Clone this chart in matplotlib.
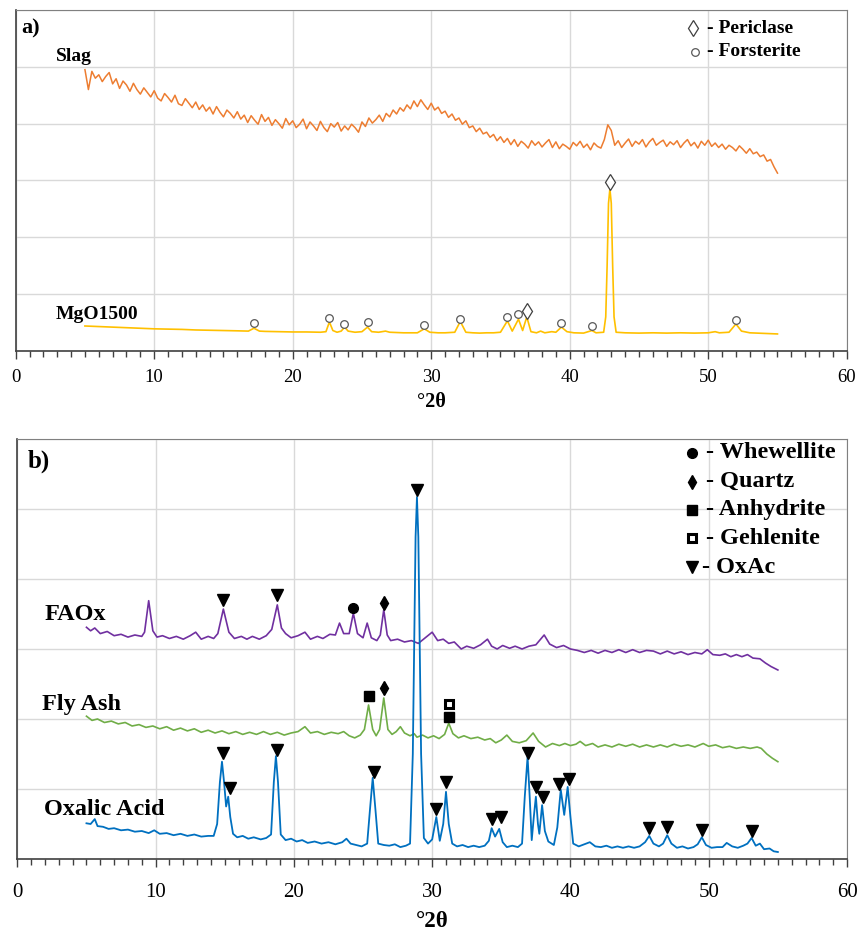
import numpy as np
import matplotlib
matplotlib.use("Agg")
import matplotlib.pyplot as plt
from matplotlib.ticker import MultipleLocator

plt.rcParams['font.family'] = ['Liberation Serif', 'DejaVu Serif']

# ---------------- panel a data ----------------
slag_x = np.linspace(5, 55, 201)
slag_y = [4.95, 4.60, 4.92, 4.80,
          4.86, 4.74, 4.83, 4.90,
          4.70, 4.79, 4.62, 4.75,
          4.68, 4.57, 4.71, 4.60,
          4.52, 4.63, 4.55, 4.47,
          4.58, 4.45, 4.40, 4.53,
          4.46, 4.38, 4.50, 4.35,
          4.32, 4.44, 4.36, 4.28,
          4.38, 4.25, 4.33, 4.22,
          4.29, 4.17, 4.30, 4.20,
          4.12, 4.24, 4.18, 4.10,
          4.21, 4.08, 4.15, 4.02,
          4.14, 4.06, 3.99, 4.16,
          4.04, 4.11, 3.97, 4.07,
          4.00, 3.92, 4.09, 3.98,
          4.05, 3.93, 3.99, 4.08,
          3.91, 4.03, 3.96, 3.88,
          4.04, 3.93, 3.86, 4.00,
          3.94, 4.02, 3.87, 3.96,
          3.89, 3.99, 3.93, 3.85,
          4.03, 3.95, 4.10, 4.01,
          4.07, 4.15, 4.04, 4.18,
          4.12, 4.24, 4.17, 4.28,
          4.22, 4.33, 4.26, 4.40,
          4.30, 4.42, 4.33, 4.25,
          4.36, 4.24, 4.29, 4.18,
          4.22, 4.11, 4.17, 4.06,
          4.10, 3.99, 4.05, 3.93,
          3.96, 3.86, 3.92, 3.82,
          3.85, 3.76, 3.81, 3.70,
          3.77, 3.67, 3.74, 3.63,
          3.72, 3.60, 3.69, 3.64,
          3.57, 3.70, 3.62, 3.68,
          3.59, 3.66, 3.72, 3.58,
          3.68, 3.56, 3.64, 3.60,
          3.55, 3.67, 3.61, 3.69,
          3.58, 3.64, 3.54, 3.66,
          3.60, 3.57, 3.72, 3.98,
          3.88, 3.62, 3.70, 3.58,
          3.66, 3.73, 3.60, 3.69,
          3.64, 3.72, 3.59, 3.68,
          3.74, 3.62, 3.67, 3.71,
          3.60, 3.68, 3.63, 3.70,
          3.58, 3.66, 3.72, 3.61,
          3.67, 3.57, 3.69, 3.62,
          3.71, 3.60, 3.66, 3.58,
          3.64, 3.55, 3.62, 3.58,
          3.52, 3.61, 3.55, 3.48,
          3.56, 3.47, 3.50, 3.42,
          3.45, 3.34, 3.37, 3.24,
          3.13]

mgo_x = [5, 6, 7, 8, 9, 10, 11, 12, 13, 14, 15, 16, 16.8, 17.2, 17.6, 18, 19, 20, 21, 22,
         22.4, 22.65, 22.9, 23.2, 23.5, 23.75, 24.0, 24.5, 25.0, 25.4, 25.7, 26.2, 26.7, 27.0,
         28, 29, 29.5, 29.9, 30.5, 31, 31.7, 32.1, 32.5, 33, 33.5, 34, 34.5, 35.0, 35.5, 35.85,
         36.3, 36.6, 36.9, 37.2, 37.6, 37.9, 38.2, 38.7, 39.0, 39.4, 39.8, 40.3, 41.0, 41.6,
         41.9, 42.45, 42.6, 42.7, 42.8, 42.9, 43.0, 43.1, 43.2, 43.35, 44, 45, 46, 47, 48, 49,
         50, 50.5, 50.8, 51.5, 52.0, 52.4, 53, 54, 55]
mgo_y = [0.44, 0.43, 0.42, 0.41, 0.40, 0.39, 0.385, 0.38, 0.37, 0.365, 0.36, 0.355, 0.35, 0.40,
         0.35, 0.345, 0.34, 0.335, 0.335, 0.33,
         0.34, 0.51, 0.36, 0.33, 0.35, 0.42, 0.35, 0.33, 0.34, 0.42, 0.34, 0.33, 0.35, 0.33,
         0.32, 0.32, 0.39, 0.33, 0.32, 0.32, 0.33, 0.52, 0.33, 0.32, 0.315, 0.32, 0.32, 0.33,
         0.53, 0.35,
         0.56, 0.36, 0.60, 0.34, 0.32, 0.35, 0.32, 0.34, 0.33, 0.42, 0.34, 0.32, 0.315, 0.36,
         0.32, 0.33, 0.60, 1.50, 2.60, 2.85, 2.60, 1.50, 0.60, 0.33, 0.32, 0.315, 0.32, 0.315,
         0.32, 0.315,
         0.32, 0.34, 0.32, 0.33, 0.475, 0.35, 0.32, 0.31, 0.30]

forsterite_x = [17.2, 22.6, 23.7, 25.4, 29.5, 32.1, 35.5, 36.3, 39.4, 41.6, 52.0]
forsterite_y = [0.49, 0.58, 0.475, 0.51, 0.46, 0.56, 0.60, 0.65, 0.49, 0.44, 0.55]
periclase_x = [36.9, 42.9]
periclase_y = [0.70, 2.98]

# ---------------- panel b data ----------------
faox_x = [5.0, 5.3, 5.6, 6.0, 6.5, 7.0, 7.5, 8.0, 8.5, 9.0, 9.2, 9.5, 9.8, 10.1, 10.5, 11.0,
          11.5, 12.0, 12.5, 12.9, 13.3, 13.8, 14.2, 14.5, 14.9, 15.3, 15.7, 16.2, 16.6, 17.0,
          17.5, 18.0, 18.4, 18.8, 19.1, 19.4, 19.8, 20.3, 20.8, 21.2, 21.7, 22.1, 22.6, 23.0,
          23.3, 23.6, 24.0, 24.3, 24.6, 25.0, 25.3, 25.6, 26.0, 26.25, 26.5, 26.75, 27.0, 27.5,
          28.0, 28.5, 29.0, 29.5, 30.0, 30.4, 30.8, 31.2, 31.6, 32.1, 32.5, 33.0, 33.5, 34.0,
          34.3, 34.7, 35.1, 35.6, 36.0, 36.5, 37.0, 37.5, 38.1, 38.5, 39.0, 39.5, 40.0, 40.5,
          41.0, 41.5, 42.0, 42.5, 43.0, 43.5, 44.0, 44.5, 45.0, 45.5, 46.0, 46.5, 47.0, 47.5,
          48.0, 48.5, 49.0, 49.5, 49.9, 50.3, 50.8, 51.2, 51.6, 52.0, 52.4, 52.8, 53.2, 53.7,
          54.1, 54.5, 55.0]
faox_y = [3.31, 3.26, 3.30, 3.22, 3.25, 3.19, 3.21, 3.17, 3.20, 3.18, 3.24, 3.69, 3.26, 3.17,
          3.19, 3.15, 3.18, 3.14, 3.19, 3.24, 3.14, 3.18, 3.15, 3.22, 3.57, 3.24, 3.15, 3.18,
          3.14, 3.18, 3.14, 3.19, 3.28, 3.63, 3.30, 3.22, 3.16, 3.19, 3.24, 3.14, 3.18, 3.15,
          3.21, 3.20, 3.37, 3.22, 3.22, 3.51, 3.22, 3.16, 3.37, 3.16, 3.12, 3.20, 3.56, 3.20,
          3.12, 3.14, 3.10, 3.12, 3.08, 3.16, 3.24, 3.12, 3.14, 3.08, 3.10, 3.00, 3.04, 3.01,
          3.06, 3.14, 3.04, 3.00, 3.05, 3.01, 3.04, 3.00, 3.04, 3.06, 3.20, 3.07, 3.02, 3.05,
          3.00, 2.98, 2.95, 2.98, 2.94, 2.98, 2.95, 2.99, 2.95, 2.99, 2.95, 2.98, 2.97, 2.93,
          2.97, 2.93, 2.96, 2.92, 2.95, 2.93, 2.99, 2.92, 2.91, 2.93, 2.89, 2.92, 2.89, 2.92,
          2.87, 2.86, 2.80, 2.75, 2.70]

flyash_x = [5.0, 5.4, 5.8, 6.3, 6.8, 7.3, 7.8, 8.3, 8.8, 9.3, 9.8, 10.3, 10.8, 11.3, 11.8, 12.3,
            12.8, 13.3, 13.8, 14.3, 14.8, 15.3, 15.8, 16.3, 16.8, 17.3, 17.8, 18.3, 18.8, 19.3,
            19.8, 20.3, 20.8, 21.2, 21.7, 22.2, 22.7, 23.2, 23.6, 24.0, 24.4, 24.8, 25.1, 25.4,
            25.7, 25.95, 26.2, 26.5, 26.8, 27.1, 27.4, 27.7, 28.0, 28.4, 28.7, 28.9, 29.3, 29.7,
            30.1, 30.5, 30.9, 31.2, 31.5, 31.9, 32.3, 32.8, 33.3, 33.8, 34.2, 34.6, 35.0, 35.4,
            35.8, 36.3, 36.8, 37.3, 37.7, 38.2, 38.7, 39.2, 39.6, 40.0, 40.4, 40.7, 41.1, 41.6,
            42.0, 42.5, 43.0, 43.5, 44.0, 44.5, 45.0, 45.5, 46.0, 46.5, 47.0, 47.5, 48.0, 48.5,
            49.0, 49.6, 50.0, 50.5, 51.0, 51.5, 52.0, 52.5, 53.0, 53.5, 53.8, 54.2, 54.6, 55.0]
flyash_y = [2.04, 1.98, 2.00, 1.95, 1.97, 1.93, 1.95, 1.90, 1.92, 1.88, 1.90, 1.86, 1.89, 1.84,
            1.87, 1.83, 1.86, 1.81, 1.84, 1.80, 1.83, 1.79, 1.82, 1.78, 1.81, 1.78, 1.82, 1.78,
            1.81, 1.77, 1.80, 1.82, 1.89, 1.80, 1.82, 1.78, 1.81, 1.79, 1.82, 1.76, 1.73, 1.77,
            1.85, 2.20, 1.85, 1.76, 1.85, 2.30, 1.85, 1.78, 1.82, 1.89, 1.80, 1.76, 1.79, 1.74,
            1.77, 1.73, 1.76, 1.72, 1.78, 1.94, 1.79, 1.73, 1.76, 1.72, 1.74, 1.70, 1.72, 1.66,
            1.70, 1.77, 1.68, 1.66, 1.69, 1.80, 1.68, 1.60, 1.65, 1.62, 1.65, 1.62, 1.64, 1.68,
            1.62, 1.65, 1.60, 1.63, 1.60, 1.64, 1.61, 1.64, 1.60, 1.63, 1.60, 1.63, 1.60, 1.64,
            1.61, 1.63, 1.60, 1.65, 1.61, 1.63, 1.59, 1.61, 1.58, 1.60, 1.58, 1.60, 1.58, 1.50,
            1.44, 1.39]

oxalic_x = [5.0, 5.3, 5.6, 5.8, 6.2, 6.6, 7.0, 7.5, 8.0, 8.5, 9.0, 9.5, 9.9, 10.3, 10.8, 11.3,
            11.8, 12.3, 12.8, 13.3, 13.8, 14.2, 14.45, 14.65, 14.8, 14.95, 15.1, 15.25, 15.4,
            15.6, 15.9, 16.3, 16.7, 17.1, 17.6, 18.0, 18.35, 18.55, 18.7, 18.85, 19.05, 19.4,
            19.8, 20.2, 20.6, 21.0, 21.5, 22.0, 22.5, 23.0, 23.5, 23.8, 24.1, 24.5, 24.9, 25.3,
            25.5, 25.7, 25.9, 26.1, 26.5, 26.9, 27.3, 27.7, 28.1, 28.4, 28.6, 28.8, 28.9, 29.0,
            29.2, 29.4, 29.7, 30.0, 30.3, 30.55, 30.8, 31.0, 31.2, 31.45, 31.8, 32.2, 32.6, 33.0,
            33.4, 33.8, 34.1, 34.3, 34.55, 34.85, 35.1, 35.4, 35.8, 36.2, 36.5, 36.7, 36.9, 37.05,
            37.2, 37.35, 37.5, 37.65, 37.75, 37.95, 38.15, 38.4, 38.8, 39.05, 39.3, 39.55, 39.8,
            40.0, 40.2, 40.6, 41.0, 41.4, 41.8, 42.2, 42.6, 43.0, 43.4, 43.8, 44.2, 44.6, 45.0,
            45.4, 45.7, 46.0, 46.4, 46.7, 47.0, 47.3, 47.7, 48.1, 48.5, 48.9, 49.2, 49.5, 49.8,
            50.2, 50.6, 51.0, 51.3, 51.7, 52.1, 52.5, 52.8, 53.1, 53.4, 53.7, 54.0, 54.4, 54.7,
            55.0]
oxalic_y = [0.51, 0.50, 0.57, 0.47, 0.46, 0.43, 0.44, 0.41, 0.42, 0.39, 0.40, 0.37, 0.41, 0.36,
            0.37, 0.34, 0.36, 0.33, 0.35, 0.32, 0.33, 0.33, 0.50, 1.10, 1.39, 1.10, 0.75, 0.89,
            0.60, 0.36, 0.31, 0.33, 0.29, 0.31, 0.28, 0.30, 0.35, 1.10, 1.47, 1.10, 0.35, 0.27,
            0.29, 0.25, 0.27, 0.23, 0.25, 0.22, 0.24, 0.21, 0.24, 0.29, 0.22, 0.20, 0.18, 0.22,
            0.70, 1.16, 0.70, 0.22, 0.20, 0.19, 0.21, 0.17, 0.19, 0.22, 1.50, 4.60, 5.17, 4.60,
            1.50, 0.30, 0.22, 0.28, 0.60, 0.26, 0.50, 0.96, 0.50, 0.22, 0.18, 0.20, 0.17, 0.19,
            0.17, 0.19, 0.26, 0.44, 0.32, 0.43, 0.24, 0.17, 0.19, 0.17, 0.22, 0.90, 1.46, 0.90,
            0.27, 0.60, 0.89, 0.50, 0.36, 0.77, 0.40, 0.25, 0.20, 0.45, 0.99, 0.63, 1.03,
            0.60, 0.22, 0.18, 0.21, 0.24, 0.18, 0.17, 0.19, 0.16, 0.18, 0.16, 0.18, 0.16, 0.18,
            0.24, 0.33, 0.22, 0.18, 0.22, 0.34, 0.22, 0.16, 0.18, 0.15, 0.17, 0.21, 0.31, 0.20,
            0.16, 0.17, 0.17, 0.23, 0.18, 0.16, 0.19, 0.22, 0.30, 0.19, 0.22, 0.14, 0.15, 0.11,
            0.10]

oxac_x = [14.9, 15.4, 18.8, 25.8, 28.9, 30.3, 31.0, 34.3, 35.0, 36.9, 37.5, 38.0, 39.2, 39.9,
          45.7, 47.0, 49.5, 53.1, 14.9, 18.8]
oxac_y = [1.51, 1.01, 1.56, 1.24, 5.27, 0.71, 1.10, 0.57, 0.60, 1.51, 1.03, 0.89, 1.07, 1.14,
          0.44, 0.46, 0.41, 0.40, 3.70, 3.77]
whewellite_x, whewellite_y = [24.3], [3.59]
quartz_x, quartz_y = [26.5, 26.5], [3.66, 2.44]
anhydrite_x, anhydrite_y = [25.4, 31.2], [2.33, 2.03]
gehlenite_x, gehlenite_y = [31.2], [2.21]

legend_b = ['- Whewellite', '- Quartz', '- Anhydrite', '- Gehlenite', '- OxAc']


def style_axes(ax, tick_size, label_size, pad, labelpad):
    ax.set_xlim(0, 60)
    ax.set_ylim(0, 6)
    ax.xaxis.set_major_locator(MultipleLocator(10))
    ax.xaxis.set_minor_locator(MultipleLocator(1))
    ax.set_yticks(range(7))
    ax.tick_params(axis='y', length=0, labelleft=False)
    ax.tick_params(axis='x', which='major', direction='out', length=6, width=1,
                   color='#404040', labelsize=tick_size, pad=pad)
    ax.tick_params(axis='x', which='minor', direction='out', length=4, width=1,
                   color='#404040')
    ax.grid(True, which='major', color='#d9d9d9', lw=1)
    ax.set_axisbelow(True)
    for s in ['top', 'right']:
        ax.spines[s].set_color('#808080')
    for s in ['left', 'bottom']:
        ax.spines[s].set_color('#404040')
        ax.spines[s].set_linewidth(1.2)
    ax.set_xlabel('°2θ', fontsize=label_size, fontweight='bold', labelpad=labelpad)


fig = plt.figure(figsize=(8.62, 9.34), dpi=100)
ax1 = fig.add_axes([0.0182, 0.6242, 0.9641, 0.3651])
ax2 = fig.add_axes([0.0201, 0.0803, 0.9625, 0.4497])

# panel a
style_axes(ax1, 13.5, 14.5, 7, 4)
ax1.plot(slag_x, slag_y, color='#ED7D31', lw=1.1)
ax1.plot(mgo_x, mgo_y, color='#FFC000', lw=1.2)
ax1.plot(forsterite_x, forsterite_y, 'o', ms=5.5, mfc='white', mec='#595959', mew=0.9)
ax1.plot(periclase_x, periclase_y, 'd', ms=8, mfc='white', mec='#404040', mew=0.9)
ax1.text(2.9, 5.18, 'Slag', fontsize=14, fontweight='bold', va='center')
ax1.text(2.9, 0.65, 'MgO1500', fontsize=14, fontweight='bold', va='center')
ax1.text(0.0064, 0.947, 'a)', transform=ax1.transAxes, fontsize=16, fontweight='bold', va='center')
ax1.plot([0.815], [0.947], 'd', ms=8, mfc='white', mec='#404040', mew=0.9,
         transform=ax1.transAxes, clip_on=False)
ax1.plot([0.817], [0.877], 'o', ms=5.5, mfc='white', mec='#595959', mew=0.9,
         transform=ax1.transAxes, clip_on=False)
ax1.text(0.832, 0.947, '- Periclase', transform=ax1.transAxes, fontsize=14,
         fontweight='bold', va='center')
ax1.text(0.832, 0.877, '- Forsterite', transform=ax1.transAxes, fontsize=14,
         fontweight='bold', va='center')

# panel b
style_axes(ax2, 15, 16.5, 11, 7)
ax2.plot(faox_x, faox_y, color='#7030A0', lw=1.2)
ax2.plot(flyash_x, flyash_y, color='#70AD47', lw=1.2)
ax2.plot(oxalic_x, oxalic_y, color='#0070C0', lw=1.3)
ax2.plot(oxac_x, oxac_y, 'v', ms=8.5, color='black')
ax2.plot(whewellite_x, whewellite_y, 'o', ms=7, color='black')
ax2.plot(quartz_x, quartz_y, 'd', ms=7.5, color='black')
ax2.plot(anhydrite_x, anhydrite_y, 's', ms=6.5, color='black')
ax2.plot(gehlenite_x, gehlenite_y, 's', ms=6, mfc='white', mec='black', mew=2.2)
ax2.text(2.0, 3.49, 'FAOx', fontsize=17.5, fontweight='bold', va='center')
ax2.text(1.8, 2.2, 'Fly Ash', fontsize=17.5, fontweight='bold', va='center')
ax2.text(1.9, 0.71, 'Oxalic Acid', fontsize=17.5, fontweight='bold', va='center')
ax2.text(0.013, 0.948, 'b)', transform=ax2.transAxes, fontsize=18, fontweight='bold', va='center')

leg_rows = [0.967, 0.898, 0.831, 0.764, 0.695]
leg_marks = [dict(marker='o', ms=7, color='black'),
             dict(marker='d', ms=7.5, color='black'),
             dict(marker='s', ms=6.5, color='black'),
             dict(marker='s', ms=6, mfc='white', mec='black', mew=2.2),
             dict(marker='v', ms=8.5, color='black')]
for yy, lab, mk in zip(leg_rows, legend_b, leg_marks):
    ax2.plot([0.813], [yy], linestyle='none', transform=ax2.transAxes, clip_on=False, **mk)
    tx = 0.825 if lab.endswith('OxAc') else 0.830
    ax2.text(tx, yy, lab, transform=ax2.transAxes, fontsize=17.5, fontweight='bold',
             va='center')

fig.savefig('out.png', dpi=100)
